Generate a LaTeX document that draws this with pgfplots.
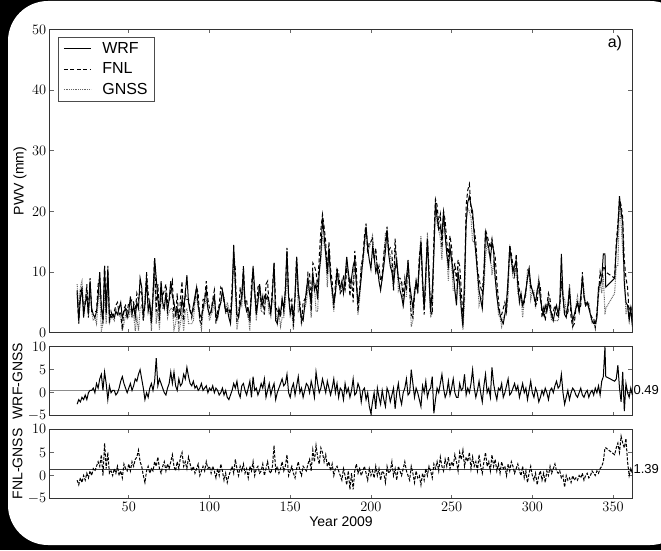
\documentclass[border=0pt]{standalone}
\usepackage{pgfplots}
\pgfplotsset{compat=1.18}
\usepackage{pgfplotstable}
\usepackage{fontspec}
\setmainfont{Liberation Sans}

\pgfplotstableread{
d w f g a b
18 6.5 7.0 8.0 -2.5 -1
19 2.0 1.5 3.5 -1.5 -2
20 5.5 7.0 7.5 -2 -0.5
21 7.5 7.0 8.5 -1 -1.5
22 2.5 4.0 4.0 -1.5 0
23 5.0 4.5 5.5 -0.5 -1
24 6.0 8.0 7.5 -1.5 0.5
25 3.0 2.5 3.0 0 -0.5
26 8.5 9.0 8.0 0.5 1
27 4.0 3.5 3.5 0.5 0
28 3.0 3.5 2.0 1 1.5
29 2.5 3.5 2.5 0 1
30 3.5 3.5 1.5 2 2
31 6.0 8.0 5.0 1 3
32 10.0 9.0 7.0 3 2
33 4.0 4.5 0.3 4 4.5
34 2.0 1.5 1.5 0.5 0
35 11.0 11.0 6.5 4.5 7
36 3.5 3.0 1.5 2 1.5
37 10.5 11.0 9.0 -1.5 5
38 3.0 2.0 1.5 1.5 0.5
39 2.5 3.5 2.5 0 1
40 3.0 2.5 2.5 0.5 0
41 2.5 3.5 2.0 0.5 1.5
42 3.5 4.5 4.0 -0.5 0.5
43 3.0 5.0 3.0 0 2
44 4.0 3.0 3.0 1 0
45 5.0 3.5 2.5 2.5 1
46 2.5 0.5 0.3 3.5 -0.5
47 3.5 4.0 1.5 2 2.5
48 4.0 4.5 3.0 1 1.5
49 2.5 3.5 2.5 0 1
50 3.5 5.0 2.5 1 2.5
51 6.0 5.0 4.0 2 1
52 3.0 5.5 2.5 0.5 3
53 4.5 5.0 3.0 1.5 2
54 2.5 3.5 0.3 3 3.5
55 5.0 6.5 2.5 2.5 4
56 4.0 5.5 0.3 4 5.5
57 9.0 7.0 4.0 5 3
58 7.5 6.5 4.5 3 2
59 3.0 2.0 2.0 1 0
60 4.5 4.5 6.0 -1.5 -1.5
61 9.0 10.0 9.0 0 1
62 3.5 6.5 4.5 -1 2
63 5.0 4.5 4.0 1 0.5
64 2.0 1.5 0.3 2 1.5
65 6.0 6.5 5.5 0.5 1
66 12.3 12.3 9.8 2.5 3
67 9.0 3.5 1.5 7.5 2
68 5.5 8.0 4.0 1.5 4
69 3.5 2.0 0.5 3 1.5
70 8.5 7.0 6.5 2 0.5
71 5.0 6.0 4.0 1 2
72 4.0 7.0 4.0 0 3
73 6.5 8.0 7.0 -0.5 1
74 3.5 5.0 2.5 1 2.5
75 5.5 5.0 3.5 2 1.5
76 8.5 7.0 4.0 4.5 3
77 6.0 8.5 4.0 2 4.5
78 5.0 2.5 0.5 4.5 2
79 3.0 2.5 1.5 1.5 1
80 4.0 6.5 3.5 0.5 3
81 2.5 1.5 0.3 3 1.5
82 3.0 5.5 1.5 1.5 4
83 5.5 8.5 3.5 2 5
84 4.0 2.0 0.3 4 2
85 6.5 6.5 3.5 3 3
86 9.5 5.5 4.0 5.5 1.5
87 5.0 5.5 1.5 3.5 4
88 3.5 4.0 1.5 2 2.5
89 3.0 2.5 1.5 1.5 1
90 4.5 4.0 2.0 2.5 2
91 6.0 5.5 5.0 1 0.5
92 7.5 7.5 6.0 1.5 1.5
93 4.5 6.5 4.0 0.5 2.5
94 3.0 2.0 2.0 1 0
95 2.5 1.5 0.5 2 1
96 4.0 5.5 3.5 0.5 2
97 5.5 5.5 4.5 1 1
98 7.0 8.5 5.5 1.5 3
99 4.0 5.5 4.0 0 1.5
100 3.0 4.0 2.0 1 2
101 3.5 3.5 3.0 0.5 0.5
102 5.0 5.5 3.5 1.5 2
103 6.0 7.0 6.0 0 1
104 3.0 1.5 2.0 1 -0.5
105 2.5 3.5 2.0 0.5 1.5
106 4.0 4.5 4.5 -0.5 0
107 5.0 7.5 5.0 0 2.5
108 7.0 7.0 6.0 1 1
109 5.5 5.0 6.0 -0.5 -1
110 3.5 3.5 3.0 0.5 0.5
111 4.0 3.5 5.0 -1 -1.5
112 2.5 4.0 4.0 -1.5 0
113 1.5 3.0 2.0 -0.5 1
114 6.0 7.5 5.5 0.5 2
115 14.5 13.0 12.5 2 0.5
116 8.0 10.5 7.0 1 3.5
117 3.0 2.0 0.5 2.5 1.5
118 2.5 2.5 2.5 0 0
119 4.5 7.5 5.5 -1 2
120 6.0 5.5 4.5 1.5 1
121 10.5 11.0 8.5 2 2.5
122 5.0 5.0 4.5 0.5 0.5
123 3.5 5.5 4.0 -0.5 1.5
124 4.0 2.5 3.0 1 -0.5
125 2.5 2.0 0.3 2.5 2
126 6.0 8.0 7.0 -1 1
127 11.0 10.5 7.5 3.5 3
128 7.0 6.5 6.5 0.5 0
129 3.0 3.5 2.0 1 1.5
130 5.0 7.5 5.5 -0.5 2
131 8.0 8.0 7.5 0.5 0.5
132 5.5 4.5 3.5 2 1
133 4.5 6.0 3.5 1 2.5
134 6.0 3.0 3.0 3 0
135 5.5 8.0 6.5 -1 1.5
136 6.0 8.5 5.5 0.5 3
137 5.0 4.0 3.0 2 1
138 3.0 4.0 3.5 -0.5 0.5
139 6.5 7.5 5.5 1 2
140 11.5 11.5 5.0 2 6.5
141 2.0 4.5 3.5 -1.5 1
142 1.5 3.5 1.5 0 2
143 4.0 3.5 3.0 1 0.5
144 3.0 2.5 1.0 2 1.5
145 5.5 5.5 2.5 3 3
146 4.0 3.5 2.5 1.5 1
147 7.0 7.0 5.0 2 2
148 13.5 14.0 9.5 4 4.5
149 6.0 6.0 6.0 0 0
150 3.0 5.0 4.0 -1 1
151 4.5 5.5 3.5 1 2
152 2.5 1.0 0.5 2 0.5
153 6.0 6.0 6.5 -0.5 -0.5
154 12.5 12.5 11.0 1.5 1.5
155 7.0 6.5 3.5 3.5 3
156 4.0 5.0 4.0 0 1
157 2.5 1.5 1.5 1 0
158 2.0 5.0 3.0 -1 2
159 4.5 5.5 4.0 0.5 1.5
160 7.0 6.0 5.0 2 1
161 9.0 10.0 7.5 1.5 2.5
162 6.5 10.0 6.5 0 3.5
163 5.0 3.5 2.5 2.5 1
164 10.0 11.5 9.0 1 5.5
165 7.0 11.0 8.0 -1 3
166 8.0 10.0 3.5 4.5 6.5
167 5.5 7.5 3.5 2 4
168 10.0 12.5 10.0 0 2.5
169 13.0 17.0 12.0 1 6
170 19.0 19.5 16.0 3 5
171 16.0 17.5 14.5 1.5 3
172 13.0 15.0 13.0 0 4.5
173 10.0 9.5 7.5 2.5 2
174 14.0 15.0 13.0 1 3
175 9.0 10.5 9.5 -0.5 1
176 7.0 8.5 6.0 1 2.5
177 5.0 4.0 3.5 3 0
178 6.5 8.0 6.5 0 1.5
179 10.5 10.5 8.5 2 2
180 8.0 10.0 9.0 -1 1
181 7.5 6.5 6.5 1 0
182 8.5 7.0 8.0 0.5 -1
183 6.5 9.5 8.0 -1.5 1.5
184 9.0 7.0 7.0 2 0
185 12.5 10.5 12.5 0 -2
186 10.0 10.0 9.0 1 1
187 8.0 6.0 9.0 -1 -3
188 9.0 9.0 8.5 0.5 0.5
189 11.0 5.0 8.0 3 -3
190 12.0 13.5 12.5 -0.5 1
191 8.0 10.5 8.0 0 2.5
192 5.0 3.5 3.0 2 0.5
193 6.5 7.0 5.5 1 1.5
194 9.0 11.0 11.0 -2 0
195 12.0 12.5 11.5 0.5 1
196 15.0 16.0 14.0 1 2
197 17.5 18.0 17.5 -1.5 0.5
198 14.0 13.0 14.0 0 -1
199 12.0 15.0 14.0 -3 1.5
200 10.5 15.0 15.0 -4.5 0
201 14.0 15.5 16.0 -2 1
202 12.5 12.0 12.5 0 -0.5
203 10.0 14.0 13.5 -3.5 2
204 11.0 10.0 10.0 1 0
205 8.5 11.0 9.5 -1 1.5
206 7.0 8.5 9.5 -2.5 -1
207 9.0 9.5 8.5 0.5 1
208 11.0 13.0 12.5 -1.5 0.5
209 13.5 15.0 16.5 -3 -1.5
210 17.0 17.5 16.0 1 2
211 13.0 13.5 13.0 0 0.5
212 11.0 14.0 13.0 -2 1
213 10.0 13.5 10.5 -0.5 3
214 8.0 7.0 7.0 1 0
215 10.5 15.5 14.0 -3.5 1.5
216 12.0 11.0 12.0 0 -1
217 9.0 9.0 7.0 2 2
218 7.0 9.0 8.0 -1 1
219 6.0 8.5 8.5 -2.5 0
220 4.5 6.0 4.5 0 1.5
221 7.0 9.0 6.0 1 3
222 9.0 7.0 6.0 3 1
223 11.5 12.0 12.0 -0.5 0
224 8.0 7.0 8.0 0 -1
225 6.0 3.0 1.0 5 2
226 4.0 2.5 2.0 2 0.5
227 6.5 6.0 7.5 -1 -1.5
228 8.5 8.5 7.5 1 1
229 7.0 6.5 7.0 0 -0.5
230 11.0 12.5 12.5 -1.5 0
231 15.0 15.0 16.0 -3 -2
232 9.0 8.0 7.5 1.5 0.5
233 4.0 3.0 4.0 0 -1
234 10.0 9.0 7.5 2.5 1.5
235 15.5 15.5 16.5 -1 0
236 9.0 10.5 8.5 0.5 2
237 3.5 3.5 2.5 1 1
238 7.0 3.0 3.5 3.5 -0.5
239 13.0 15.5 13.0 -4.5 2.5
240 21.5 22.0 21.0 -1.5 1.5
241 19.0 21.0 18.0 1 3
242 17.0 18.0 17.0 0 1
243 17.5 19.5 15.5 2 4
244 16.0 14.0 12.0 4 2
245 20.0 20.0 19.0 1 1
246 16.0 18.5 17.0 -1 3.5
247 13.0 15.0 13.0 0 2
248 11.0 12.5 8.5 2.5 4
249 14.0 16.0 14.5 -0.5 1.5
250 12.0 14.0 11.0 1 3
251 10.0 9.0 7.0 3 2
252 7.0 11.5 7.0 0 4.5
253 4.5 8.5 5.5 -1 3
254 10.0 12.0 11.0 -1 1
255 8.0 11.0 6.0 2 5
256 4.0 7.0 3.5 0.5 3.5
257 1.0 2.5 0.5 1 5.5
258 9.0 7.0 5.0 4 2
259 18.0 21.0 18.5 -0.5 4
260 21.5 23.5 20.5 1 3
261 22.5 24.5 20.0 0 5
262 21.0 20.5 19.0 2 1.5
263 20.0 19.0 15.0 5 4
264 16.0 17.0 15.0 1 2
265 13.0 15.0 14.0 -1 3
266 10.0 10.5 9.5 0.5 1
267 7.0 9.0 4.5 2.5 4.5
268 5.5 7.5 5.5 0 2
269 4.0 6.5 6.0 -2 0.5
270 9.0 10.5 7.5 1.5 3
271 16.5 17.0 12.5 4 5
272 15.0 16.0 15.0 0 2
273 14.0 15.0 13.0 1 3
274 12.0 14.0 13.0 -1 1
275 15.0 15.5 9.5 5.5 4.5
276 13.5 13.5 11.5 2 2
277 9.0 12.5 9.0 0 3.5
278 6.0 8.5 7.5 -1.5 1
279 4.0 5.5 3.0 1 2.5
280 3.0 3.0 2.5 0.5 0.5
281 2.0 3.0 1.0 2 3
282 1.5 4.0 2.5 -1 1.5
283 3.0 5.0 3.0 0 2
284 5.0 3.5 3.5 1.5 0
285 9.0 8.5 6.0 3 2.5
286 14.0 14.5 14.5 -0.5 1
287 12.0 13.0 12.0 0 3
288 10.0 11.0 9.0 1 2
289 11.0 9.5 9.0 2 0.5
290 12.0 13.0 11.5 0.5 1.5
291 8.0 9.0 6.5 1.5 2.5
292 5.0 7.0 6.0 -1 1
293 6.5 6.0 6.0 0.5 0
294 4.5 4.5 2.5 2 2
295 5.5 5.0 5.5 0 -0.5
296 7.0 7.0 6.0 1 1
297 9.0 9.0 10.5 -1.5 -1.5
298 10.5 10.5 10.0 0.5 0.5
299 8.0 7.5 5.5 2.5 2
300 7.0 7.0 7.0 0 0
301 6.0 6.0 7.0 -1 -1
302 5.0 4.5 4.0 1 0.5
303 7.0 5.0 7.0 0 -2
304 8.0 8.5 9.0 -2 0
305 5.5 7.5 6.5 -1 1
306 4.0 2.5 3.5 0.5 -1
307 3.0 4.0 3.5 -0.5 0.5
308 4.5 2.0 3.5 1 -1.5
309 3.5 4.5 3.5 0 1
310 5.0 6.5 6.5 -1.5 0
311 4.0 5.5 3.5 0.5 2
312 3.0 2.5 2.0 1 0.5
313 2.0 3.5 2.0 0 1.5
314 3.5 4.5 2.0 1.5 2.5
315 4.5 3.0 2.0 2.5 1
316 3.0 2.5 2.0 1 0.5
317 5.0 4.5 3.5 1.5 1
318 13.0 8.5 9.0 4 -0.5
319 6.0 6.0 6.0 0 0
320 3.0 3.0 5.5 -2.5 -2.5
321 2.5 3.5 3.5 -1 0
322 4.5 3.0 4.0 0.5 -1
323 7.0 7.5 8.0 -1.5 -0.5
324 4.0 2.5 4.0 0 -1.5
325 2.0 1.0 1.0 1 0
326 3.0 1.5 2.5 0.5 -1
327 4.0 4.0 4.5 -0.5 -0.5
328 5.0 5.0 6.0 -1 -1
329 3.5 3.5 3.5 0 0
330 6.0 4.5 5.0 1 -0.5
331 9.0 10.0 9.5 -0.5 0.5
332 6.0 6.0 7.0 -1 -1
333 4.5 4.5 4.5 0 0
334 5.0 5.0 4.5 0.5 0.5
335 4.0 4.5 5.0 -1 -0.5
336 3.0 3.0 3.0 0 0
337 2.0 2.5 1.5 0.5 1
338 1.5 2.5 2.0 -0.5 0.5
339 1.5 0.8 0.8 1 0
340 2.5 3.5 2.5 0 1
341 7.5 6.5 6.0 1.5 0.5
342 8.0 10.0 8.5 -0.5 1.5
343 9.0 8.5 6.5 2.5 2
344 13.0 11.0 9.5 3.5 3
345 13.0 10.5 3.0 10 6
345.5 7.5 10.0 4.0 3.5 6
351 9.0 9.0 6.5 2.5 4.5
352 14.0 15.0 11.0 3 6
353 17.0 18.0 11.0 6 7
354 22.5 22.0 21.5 1 5
355 20.0 21.0 18.0 -2 8.5
356 18.0 19.0 13.5 4.5 7
357 8.0 12.0 10.0 -4 6
358 5.0 9.0 3.0 2 8
359 4.5 7.5 4.5 0 3
360 2.0 3.0 3.0 -1 0
361 4.0 4.5 3.0 1 1.5
362 1.0 2.0 1.5 -0.5 0.5
}\data

\pgfplotsset{
  commonax/.style={
    scale only axis, width=582.7pt, xmin=1, xmax=362,
    anchor=south west,
    axis line style={black!80, line width=1.2pt},
    tick align=inside, major tick length=4pt,
    tick style={black!60, line width=0.6pt},
    xtick={50,100,...,350},
    tick label style={font=\fontsize{14.5}{14.5}\selectfont},
    ylabel style={font=\fontsize{14}{14}\selectfont, anchor=center},
  },
}

\begin{document}
\begin{tikzpicture}
\useasboundingbox (0pt,0pt) rectangle (661pt,550pt);
\fill[black] (0pt,0pt) rectangle (661pt,550pt);
\fill[white, rounded corners=40pt] (8pt,5pt) rectangle (690pt,549pt);

% main panel
\begin{axis}[commonax, at={(49.7pt,217.3pt)}, height=303.2pt,
  ymin=0, ymax=50, ytick={0,10,...,50}, xticklabels={},
  ylabel={PWV (mm)}, ylabel style={at={(axis description cs:-0.051,0.5)}},
  reverse legend,
  legend cell align=left,
  legend image code/.code={\draw[#1] (0pt,0pt) -- (27pt,0pt);},
  legend style={at={(0.0142,0.975)}, anchor=north west, draw=black!70,
    line width=0.7pt, fill=white, inner xsep=5pt, inner ysep=3pt,
    row sep=4pt, font=\fontsize{16}{16}\selectfont,
    /tikz/every odd column/.append style={column sep=9pt}},
]
\addplot[black!60, line width=1pt, dash pattern=on 0.9pt off 0.9pt] table[x=d,y=g]{\data};
\addlegendentry{GNSS}
\addplot[black, line width=1pt, dash pattern=on 4pt off 2.5pt] table[x=d,y=f]{\data};
\addlegendentry{FNL}
\addplot[black, line width=1pt] table[x=d,y=w]{\data};
\addlegendentry{WRF}
\node[font=\fontsize{16}{16}\selectfont] at (axis description cs:0.97,0.955) {a)};
\end{axis}

% WRF-GNSS
\begin{axis}[commonax, at={(49.7pt,134.3pt)}, height=69pt,
  ymin=-5, ymax=10, ytick={-5,0,5,10}, xticklabels={},
  ylabel={WRF-GNSS}, ylabel style={at={(axis description cs:-0.055,0.5)}},
  clip=false,
]
\addplot[black!45, line width=1.8pt] coordinates {(1,0.49) (362,0.49)};
\addplot[black, line width=1pt] table[x=d,y=a]{\data};
\node[anchor=west, inner sep=1pt, font=\fontsize{13}{13}\selectfont] at (axis cs:362,0.49) {0.49};
\end{axis}

% FNL-GNSS
\begin{axis}[commonax, at={(49.7pt,51.3pt)}, height=69.4pt,
  ymin=-5, ymax=10, ytick={-5,0,5,10},
  ylabel={FNL-GNSS}, ylabel style={at={(axis description cs:-0.055,0.5)}},
  xlabel={Year 2009},
  xlabel style={at={(axis description cs:0.5,-0.336)}, anchor=center, font=\fontsize{14}{14}\selectfont},
  clip=false,
]
\addplot[black!75, line width=1.2pt] coordinates {(1,1.39) (362,1.39)};
\addplot[black, line width=1pt, dash pattern=on 3pt off 1.5pt] table[x=d,y=b]{\data};
\node[anchor=west, inner sep=1pt, font=\fontsize{13}{13}\selectfont] at (axis cs:362,1.39) {1.39};
\end{axis}
\end{tikzpicture}
\end{document}
